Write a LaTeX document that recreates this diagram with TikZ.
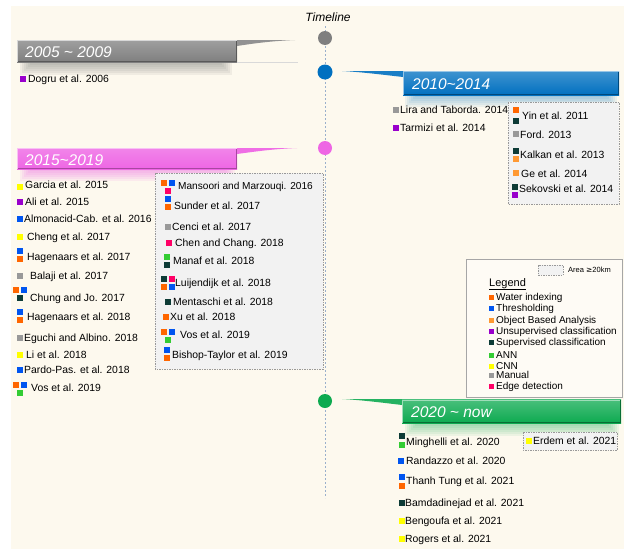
\documentclass[tikz,border=0pt]{standalone}
\usepackage{fontspec}
\setmainfont{Liberation Sans}
\definecolor{cream}{HTML}{FDF9EE}
\definecolor{qw}{HTML}{FF6600}
\definecolor{qt}{HTML}{0055F0}
\definecolor{qo}{HTML}{FF9933}
\definecolor{qu}{HTML}{9900CC}
\definecolor{qs}{HTML}{0D3B36}
\definecolor{qa}{HTML}{33CC33}
\definecolor{qc}{HTML}{FFFF00}
\definecolor{qm}{HTML}{999999}
\definecolor{qe}{HTML}{FF0066}
\definecolor{bgray}{HTML}{7F7F7F}
\definecolor{bblue}{HTML}{0070C0}
\definecolor{bpink}{HTML}{EE66E4}
\definecolor{bgreen}{HTML}{0DAA50}
\definecolor{boxfill}{HTML}{F2F2F2}
\definecolor{tl}{HTML}{9AB0CC}
\newcommand\msq[3]{\fill[fill=#3] (#1-2.75,#2-2.75) rectangle ++(5.5,5.5);}
\newcommand\lsq[3]{\fill[fill=#3] (#1-2.5,#2-2.5) rectangle ++(5,5);}
\newcommand\ent[4]{\node[lbl] (#1) at (#2,#3+3.7) {#4};}
\newcommand\lent[4]{\node[lgl] (#1) at (#2,#3+3.6) {#4};}
\begin{document}
\begin{tikzpicture}[x=1pt,y=-1pt,
  lbl/.style={anchor=base west,inner sep=0pt,font=\fontsize{10.4}{12}\selectfont},
  lgl/.style={anchor=base west,inner sep=0pt,font=\fontsize{10}{12}\selectfont},
  hdr/.style={anchor=base west,inner sep=0pt,text=white,font=\fontsize{15.5}{18}\selectfont\itshape},
  dbox/.style={draw=gray!80,dashed,fill=boxfill,line width=0.5pt,dash pattern=on 1.5pt off 1pt}]
\useasboundingbox (0,0) rectangle (624,549);
\fill[white] (0,0) rectangle (624,549);
\fill[cream] (11,6) rectangle (624,549);

% timeline
\node[inner sep=0pt,font=\fontsize{12}{14}\selectfont\itshape] (title) at (328,17) {Timeline};
\coordinate (tltop) at (325,26);
\coordinate (tlbot) at (325,498);
\draw[tl,line width=0.6pt,dash pattern=on 2pt off 2pt] (tltop) -- (tlbot);

% shadows / glows
\foreach \k in {0,...,5} {
  \fill[bgray,opacity=0.10] (20+\k*2,62) rectangle (232-\k*2,75-\k*2);
  \fill[bpink,opacity=0.10] (20+\k*2,169) rectangle (235-\k*2,181-\k*2);
  \fill[bblue,opacity=0.07] (405+\k*2,95) rectangle (617-\k*2,107-\k*2);
  \fill[bgreen,opacity=0.07] (405+\k*2,423) rectangle (619-\k*2,436-\k*2);
}

% gray banner
\fill[bgray!85] (230,40) -- (295,40) .. controls (270,41) and (250,44) .. (237,46) -- (230,46) -- cycle;
\shade[top color=bgray!75, bottom color=bgray] (17,40) rectangle (237,62);
\draw[white!70!bgray,line width=0.8pt] (17.5,61.5) -- (17.5,40.5) -- (236.5,40.5);
\draw[bgray!70!black,line width=0.8pt] (17.5,61.6) -- (236.6,61.6) -- (236.6,40.5);
\draw[gray!30,line width=0.5pt] (237,62) -- (298,62);
\node[hdr] (h1) at (25,57.5) {2005 \char`\~{} 2009};

% blue banner
\fill[bblue!90] (410,71) -- (342,71) .. controls (362,72) and (385,75) .. (403,77) -- (410,77) -- cycle;
\shade[top color=bblue!75, bottom color=bblue] (403,71) rectangle (619,95);
\draw[white!60!bblue,line width=0.8pt] (403.5,94.5) -- (403.5,71.5) -- (618.5,71.5);
\draw[bblue!65!black,line width=0.8pt] (403.5,94.6) -- (618.6,94.6) -- (618.6,71.5);
\node[hdr] (h2) at (412,89.5) {2010\char`\~2014};

% pink banner
\fill[bpink!95] (230,148) -- (297,148) .. controls (272,149) and (252,152) .. (237,154) -- (230,154) -- cycle;
\shade[top color=bpink!80, bottom color=bpink] (17,148) rectangle (237,169);
\draw[white!60!bpink,line width=0.8pt] (17.5,168.5) -- (17.5,148.5) -- (236.5,148.5);
\draw[bpink!70!black,line width=0.8pt] (17.5,168.6) -- (236.6,168.6) -- (236.6,148.5);
\node[hdr] (h3) at (25,165.5) {2015\char`\~2019};

% green banner
\fill[bgreen!90] (409,399) -- (342,399) .. controls (362,400) and (385,403) .. (402,405) -- (409,405) -- cycle;
\shade[top color=bgreen!75, bottom color=bgreen] (402,399.5) rectangle (621,423);
\draw[white!60!bgreen,line width=0.8pt] (402.5,422.5) -- (402.5,400) -- (620.5,400);
\draw[bgreen!65!black,line width=0.8pt] (402.5,422.6) -- (620.6,422.6) -- (620.6,400);
\node[hdr] (h4) at (411,417.5) {2020 \char`\~{} now};

% circles
\node[circle,fill=bgray,inner sep=0pt,minimum size=14pt] (c1) at (325,38) {};
\node[circle,fill=bblue,inner sep=0pt,minimum size=15pt] (c2) at (325,72) {};
\node[circle,fill=bpink,inner sep=0pt,minimum size=14pt] (c3) at (325,148) {};
\node[circle,fill=bgreen,inner sep=0pt,minimum size=14pt] (c4) at (325,401) {};

% 2005-2009
\msq{23}{79}{qu}
\ent{dogru}{28}{79}{Dogru et al. 2006}

% 2010-2014
\msq{396}{110}{qm}
\ent{lira}{400}{110}{Lira and Taborda. 2014}
\msq{396}{128}{qu}
\ent{tarmizi}{400}{128}{Tarmizi et al. 2014}
\draw[dbox] (508,102) rectangle (619,204);
\msq{516}{110}{qw}\msq{516}{121}{qs}
\ent{yin}{522}{116}{Yin et al. 2011}
\msq{516}{134}{qm}
\ent{ford}{520}{135}{Ford. 2013}
\msq{516}{151}{qs}\msq{516}{159}{qo}
\ent{kalkan}{520}{155}{Kalkan et al. 2013}
\msq{516}{173}{qo}
\ent{ge}{521}{174}{Ge et al. 2014}
\msq{515}{187}{qs}\msq{515}{195}{qu}
\ent{sekovski}{519}{189}{Sekovski et al. 2014}

% 2015-2019 left list
\msq{20}{187}{qc}
\ent{garcia}{25}{185}{Garcia et al. 2015}
\msq{20}{202}{qu}
\ent{ali}{25}{202}{Ali et al. 2015}
\msq{20}{219}{qt}
\ent{almon}{24}{219}{Almonacid-Cab. et al. 2016}
\msq{20}{237}{qc}
\ent{cheng}{27}{237}{Cheng et al. 2017}
\msq{20}{251}{qt}\msq{20}{259}{qw}
\ent{hag17}{27}{257}{Hagenaars et al. 2017}
\msq{20}{276}{qm}
\ent{balaji}{30}{276}{Balaji et al. 2017}
\msq{16}{290}{qw}\msq{24}{290}{qt}\msq{20}{298}{qs}
\ent{chung}{30}{298}{Chung and Jo. 2017}
\msq{20}{312}{qt}\msq{20}{320}{qw}
\ent{hag18}{27}{317}{Hagenaars et al. 2018}
\msq{20}{338}{qm}
\ent{eguchi}{24}{338}{Eguchi and Albino. 2018}
\msq{20}{355}{qc}
\ent{li}{26}{355}{Li et al. 2018}
\msq{20}{370}{qt}
\ent{pardo}{24}{370}{Pardo-Pas. et al. 2018}
\msq{16}{385}{qw}\msq{24}{385}{qt}\msq{20}{393}{qa}
\ent{vosA}{31}{388}{Vos et al. 2019}

% 2015-2019 box
\draw[dbox] (155,173) rectangle (323,369);
\msq{164}{183}{qw}\msq{172}{183}{qt}\msq{168}{191}{qe}
\node[lbl,font=\fontsize{10.1}{12}\selectfont] (mansoori) at (178,189.6) {Mansoori and Marzouqi. 2016};
\msq{168}{199}{qt}\msq{168}{207}{qw}
\ent{sunder}{174}{206}{Sunder et al. 2017}
\msq{168}{227}{qm}
\ent{cenci}{172}{227}{Cenci et al. 2017}
\msq{169}{243}{qe}
\ent{chen}{175}{243}{Chen and Chang. 2018}
\msq{167}{257}{qa}\msq{167}{265}{qs}
\ent{manaf}{173}{261}{Manaf et al. 2018}
\msq{164}{279}{qs}\msq{172}{279}{qe}\msq{164}{287}{qw}\msq{172}{287}{qt}
\ent{luij}{175}{283}{Luijendijk et al. 2018}
\msq{168}{302}{qs}
\ent{ment}{173}{302}{Mentaschi et al. 2018}
\msq{166}{317}{qw}
\ent{xu}{170}{317}{Xu et al. 2018}
\msq{164}{332}{qw}\msq{172}{332}{qt}\msq{168}{340}{qa}
\ent{vosB}{180}{335}{Vos et al. 2019}
\msq{167}{350}{qt}\msq{167}{358}{qw}
\ent{bishop}{172}{355}{Bishop-Taylor et al. 2019}

% legend
\draw[gray!70,fill=cream!60!white,line width=0.5pt] (466,259) rectangle (622,397);
\draw[dbox] (538,265) rectangle (563,275);
\node[anchor=base west,inner sep=0pt,font=\fontsize{7.5}{9}\selectfont] (area) at (568,272.7) {Area \fontspec{DejaVu Sans}≥\fontspec{Liberation Sans}20km};
\node[anchor=base west,inner sep=0pt,font=\fontsize{11}{13}\selectfont] (legend) at (489,286) {\underline{Legend}};
\lsq{491}{297}{qw}\lent{lw}{496}{297}{Water indexing}
\lsq{491}{308}{qt}\lent{lt}{496}{308}{Thresholding}
\lsq{491}{320}{qo}\lent{lo}{496}{320}{Object Based Analysis}
\lsq{491}{331}{qu}\lent{lu}{496}{331}{Unsupervised classification}
\lsq{491}{342}{qs}\lent{ls}{496}{342}{Supervised classification}
\lsq{491}{355}{qa}\lent{la}{496}{355}{ANN}
\lsq{491}{366}{qc}\lent{lc}{496}{366}{CNN}
\lsq{491}{375}{qm}\lent{lm}{496}{375}{Manual}
\lsq{491}{386}{qe}\lent{le}{496}{386}{Edge detection}

% 2020 - now
\msq{402}{436}{qs}\msq{402}{445}{qa}
\ent{minghelli}{406}{442}{Minghelli et al. 2020}
\msq{401}{461}{qt}
\ent{randazzo}{406}{461}{Randazzo et al. 2020}
\msq{402}{477}{qt}\msq{402}{486}{qw}
\ent{thanh}{406}{481}{Thanh Tung et al. 2021}
\msq{402}{503}{qs}
\ent{bamda}{405}{503}{Bamdadinejad et al. 2021}
\msq{402}{521}{qc}
\ent{bengoufa}{405}{521}{Bengoufa et al. 2021}
\msq{402}{539}{qc}
\ent{rogers}{405}{539}{Rogers et al. 2021}
\draw[dbox] (523,432) rectangle (617,450);
\msq{529}{441}{qc}
\ent{erdem}{533}{441}{Erdem et al. 2021}
\end{tikzpicture}
\end{document}
